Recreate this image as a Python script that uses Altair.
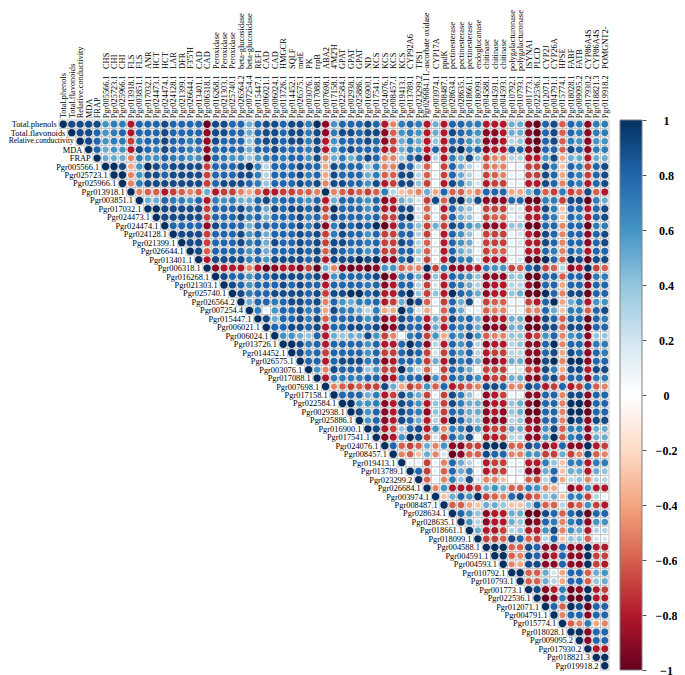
import altair as alt
import pandas as pd

traits = ["Total.phenols", "Total.flavonoids", "Relative.conductivity", "MDA", "FRAP"]
gene_ids = """Pgr005566.1 Pgr025723.1 Pgr025966.1 Pgr013918.1 Pgr003851.1 Pgr017032.1 Pgr024473.1 Pgr024474.1
Pgr024128.1 Pgr021399.1 Pgr026644.1 Pgr013401.1 Pgr006318.1 Pgr016268.1 Pgr021303.1 Pgr025740.1 Pgr026564.2
Pgr007254.4 Pgr015447.1 Pgr006021.1 Pgr006024.1 Pgr013726.1 Pgr014452.1 Pgr026575.1 Pgr003076.1 Pgr017088.1
Pgr007698.1 Pgr017158.1 Pgr022584.1 Pgr002938.1 Pgr025886.1 Pgr016900.1 Pgr017541.1 Pgr024076.1 Pgr008457.1
Pgr019413.1 Pgr013789.1 Pgr023299.2 Pgr026684.1 Pgr003974.1 Pgr008487.1 Pgr028634.1 Pgr028635.1 Pgr018661.1
Pgr018099.1 Pgr004588.1 Pgr004591.1 Pgr004593.1 Pgr010792.1 Pgr010793.1 Pgr001773.1 Pgr022536.1 Pgr012071.1
Pgr004791.1 Pgr015774.1 Pgr018028.1 Pgr009095.2 Pgr017930.2 Pgr018821.3 Pgr019918.2""".split()
gene_names = ["CHS", "CHI", "CHI", "FLS", "FLS", "ANR", "HCT", "HCT", "LAR", "DFR", "F3'5'H", "CAD", "CAD",
              "Peroxidase", "Peroxidase", "Peroxidase", "beta-glucosidase", "beta-glucosidase", "REF1", "CAD", "CAD",
              "HMGCR", "SQLF", "metE", "PK", "trpB", "ABA2", "4'M2'H", "GPAT", "GPAT", "GPAT", "ND", "KCS", "KCS",
              "KCS", "KCS", "CYP92A6", "TPS1", "L-ascorbate oxidase", "CYP17A", "ppdK", "pectinesterase",
              "pectinesterase", "pectinesterase", "endoglucanase", "chitinase", "chitinase", "chitinase",
              "polygalacturonase", "polygalacturonase", "ISYNA1", "PLCD", "CYP2J", "CYP26A", "HPSE", "FABF", "FATB",
              "CYP86A4S", "CYP86A4S", "POMGNT2-"]

# One character per cell: digits are +0.1 steps, X is 1,
# letters a..j are -0.1 .. -1.0. Each row starts on the diagonal.
rows = [
    "X9999677h888988 88j9988589989 97X i688898he787h5h8877hhh55ij89f87i77",
    "X998678h888988 88i9988589989 979 i799899if676h5h9876iih55ij89f87i77",
    "X98677g7889 8878i98884 89989979 h688898ig575h4h8865iih34ij89f76i66",
    "X8566h9879 8877i88885 88988879 h689888hg576h8h9X78ihh88ij88f98i77",
    "X555e7668 7766j87664 67878869 e575798ee489i3h7594gee33hh69d55h55",
    "XX9d6X989999g8889X73888988 d988847ee983f0g8531fee01gg97c87g89",
    "XXe69989999g8889973888978 d988857ff993f1g8531gfe11gg98d87g89",
    "Xe79999999g8999874888989 e998869hg994g1h9742hgg11hh98e87h89",
    "Xeffhgfef5hggedfhhggffe Xefgfgf73cde5d8ffde888dd58fg7gf9fh",
    "X5587768h7675589788768 h588768ih542g9f9X59iii88jj77g99j75",
    "XX99999g8889785989989 gX88868hh992f1h8541ggg22hh97c88h89",
    "X99999g8889785888978 f988878gg9X2f1g8541gff12hh87c87h89",
    "X8888i9888588888979 i79898Xjh874g5g9865iih44jj88e88j77",
    "X999g8889685888989 g798868gg883g1h8641ggg12hi98e88i89",
    "X99g8889785988989 g998878gg983f1h8651ggg12hh98e88i89",
    "X9f8888685888989 f987868gg884f1h8541gff11hh87e87h88",
    "Xh9999786999989 h999X9Xii893g1h9772hhh12jjX8fX9j99",
    "Xihhhehjihhigj 5eijiji66feeXg7iihh766gf89gf3ihXgf",
    "X988688999989 i688889ji785i4h8764iii44jj88f88j77",
    "X98688898988 h888878ih883g2h8753ihh33ij88d88i88",
    "X9788999989 g99XX89hh9X4g4hX875ihh45jjX8e99j88",
    "X588789989 e865778hg5X9f1g8591gff11gh8Xd57h66",
    "X71688978 d977537ddX72d0f8511fee11ee85c77f89",
    "X9588979 f888868ih987h5g9785ihh55ji98f88j87",
    "X889989 h889989ji988i5h8785jii55jj99f99j88",
    "X66548 h545596ge178g6d7696fee44hg68e67i44",
    "XX978 h888868hh8X8i3h8683ihh34ii8Xe88i77",
    "X978 g888868gg898g2g8683hgg33ii89d98i87",
    "X88 h899978ih887g5h9785iih55ij9XeXXi88",
    "X6 e988846ggX63f1g8751ggg12gh97d99h99",
    "X h777788ih788j6g8786hgg55ii89f88i77",
    "Xefgfgg95dgf6f8hgfe998ee98hg8hg8fe",
    "X88857hg975g1g9741ihg11ii88e99i88",
    "XX667ih986h4g9755ihh45ij88eXXj88",
    "X968ih987i4g8755ihi45jj88eXXj88",
    "X68ih985h3hX854iii34ii88eX9i99",
    "X9hg489h6e7796hgg55hi69f77i55",
    "Xih6X9g2g8691hhg33ii6Xf78i55",
    "X8fgf5e6iiggXXXff98ih8iiXhg",
    "Xefc5e2jiff988ee66gg5ge9fe",
    "X11g1e8531hgg11hh74c77h77",
    "X8g1f8571hgg12ii58c55h54",
    "Xf1e7492eec00fg38d34e33",
    "Xe6hhhg565ff76ed1ih6hh",
    "Xc586Xgfe89gf45c77g31",
    "Xffdc554cc48ff3gf6gh",
    "X864ihh55jj98f89j88",
    "X63ihh54ji87e78i66",
    "X5hhg34hh69e65h33",
    "Xggf98fg38c44f22",
    "XXXff98ii8iiXhh",
    "XXfe98ih8iiXgg",
    "Xed99ii8iiXgh",
    "XXff52d88f56",
    "Xff53d88f45",
    "X9ih7jiXhg",
    "Xji7jjXhh",
    "X8fX9j88",
    "Xe88i88",
    "Xfe7de",
    "XXi88",
    "Xi88",
    "Xhh",
    "XX",
    "X",
]

ramp_stops = [-1, -0.8, -0.6, -0.4, -0.2, 0, 0.2, 0.4, 0.6, 0.8, 1]
ramp_colors = ["#67001F", "#B2182B", "#D6604D", "#F4A582", "#FDDBC7", "#FFFFFF",
               "#D1E5F0", "#92C5DE", "#4393C3", "#2166AC", "#053061"]

levels = {str(d): d / 10 for d in range(10)}
levels["X"] = 1.0
levels.update({ch: -(k + 1) / 10 for k, ch in enumerate("abcdefghij")})

names = traits + gene_ids
n = len(names)
NB = "\u00a0"
gaps = {"L-ascorbate oxidase": 1, "polygalacturonase": 2}
top_text = traits + [f"{g}{NB * gaps.get(m, 3)}{m}" for g, m in zip(gene_ids, gene_names)]

records = []
for i, raw in enumerate(rows):
    row = raw.replace(" ", "")
    if len(row) != n - i:
        raise SystemExit(f"row {i}: {len(row)} cells, expected {n - i}")
    for k, ch in enumerate(row):
        j = i + k
        records.append(dict(x0=j, x1=j + 1, xc=j + 0.5, y0=i, y1=i + 1, yc=i + 0.5,
                            r=levels[ch], mag=abs(levels[ch])))
cells = pd.DataFrame(records)
top_df = pd.DataFrame({"x": [j + 0.5 for j in range(n)], "y": [-0.2] * n, "t": top_text,
                       "fs": [7.9 if "L-ascorbate" in t else 8.4 for t in top_text]})
left_df = pd.DataFrame({"x": [i - 0.25 for i in range(n)], "y": [i + 0.5 for i in range(n)], "t": names,
                        "fs": [7.6 if t == "Relative.conductivity" else 8.4 for t in names]})
bar_df = pd.DataFrame({"lo": [-1], "hi": [1]})

xs = alt.Scale(domain=[0, n], nice=False, zero=False)
ys = alt.Scale(domain=[0, n], nice=False, zero=False, reverse=True)
color = alt.Scale(domain=ramp_stops, range=ramp_colors)
FONT = "Liberation Serif"

grid = alt.Chart(cells).mark_rect(fill="white", stroke="#c4c4c4", strokeWidth=1).encode(
    x=alt.X("x0:Q", scale=xs, axis=None), x2="x1:Q",
    y=alt.Y("y0:Q", scale=ys, axis=None), y2="y1:Q")

dots = alt.Chart(cells).mark_circle(opacity=1).encode(
    x=alt.X("xc:Q", scale=xs, axis=None),
    y=alt.Y("yc:Q", scale=ys, axis=None),
    size=alt.Size("mag:Q", scale=alt.Scale(type="pow", exponent=0.5, domain=[0, 1], range=[0, 54]), legend=None),
    color=alt.Color("r:Q", scale=color, legend=None))

top = alt.Chart(top_df).mark_text(angle=270, align="left", baseline="middle", font=FONT, color="black").encode(
    x=alt.X("x:Q", scale=xs, axis=None), y=alt.Y("y:Q", scale=ys, axis=None), text="t:N",
    size=alt.Size("fs:Q", scale=None, legend=None))

left = alt.Chart(left_df).mark_text(align="right", baseline="middle", font=FONT, color="black").encode(
    x=alt.X("x:Q", scale=xs, axis=None), y=alt.Y("y:Q", scale=ys, axis=None), text="t:N",
    size=alt.Size("fs:Q", scale=None, legend=None))

gradient = alt.Gradient(gradient="linear", x1=0, y1=1, x2=0, y2=0,
                        stops=[alt.GradientStop(offset=(v + 1) / 2, color=c)
                               for v, c in zip(ramp_stops, ramp_colors)])
bar = alt.Chart(bar_df).mark_rect(color=gradient, stroke="#808080", strokeWidth=1).encode(
    x=alt.value(561), x2=alt.value(583),
    y=alt.Y("lo:Q", scale=alt.Scale(domain=[-1, 1], nice=False),
            axis=alt.Axis(orient="right", offset=33, values=ramp_stops, tickSize=4, domain=False,
                          grid=False, title=None, labelFont=FONT, labelFontWeight="bold",
                          labelFontSize=12, labelAlign="center", labelPadding=20, format=".1~f",
                          labelOverlap=False, tickColor="#555555", labelColor="black")),
    y2="hi:Q")

chart = alt.layer(grid, dots, top, left, bar).resolve_scale(
    y="independent", size="independent").properties(
    width=550, height=550,
    padding={"left": 51, "top": 112, "right": 68, "bottom": 8},
    autosize=alt.AutoSizeParams(type="none"),
).configure_view(stroke=None)

chart.save("out.html", embed_options={"renderer": "svg", "actions": False})
